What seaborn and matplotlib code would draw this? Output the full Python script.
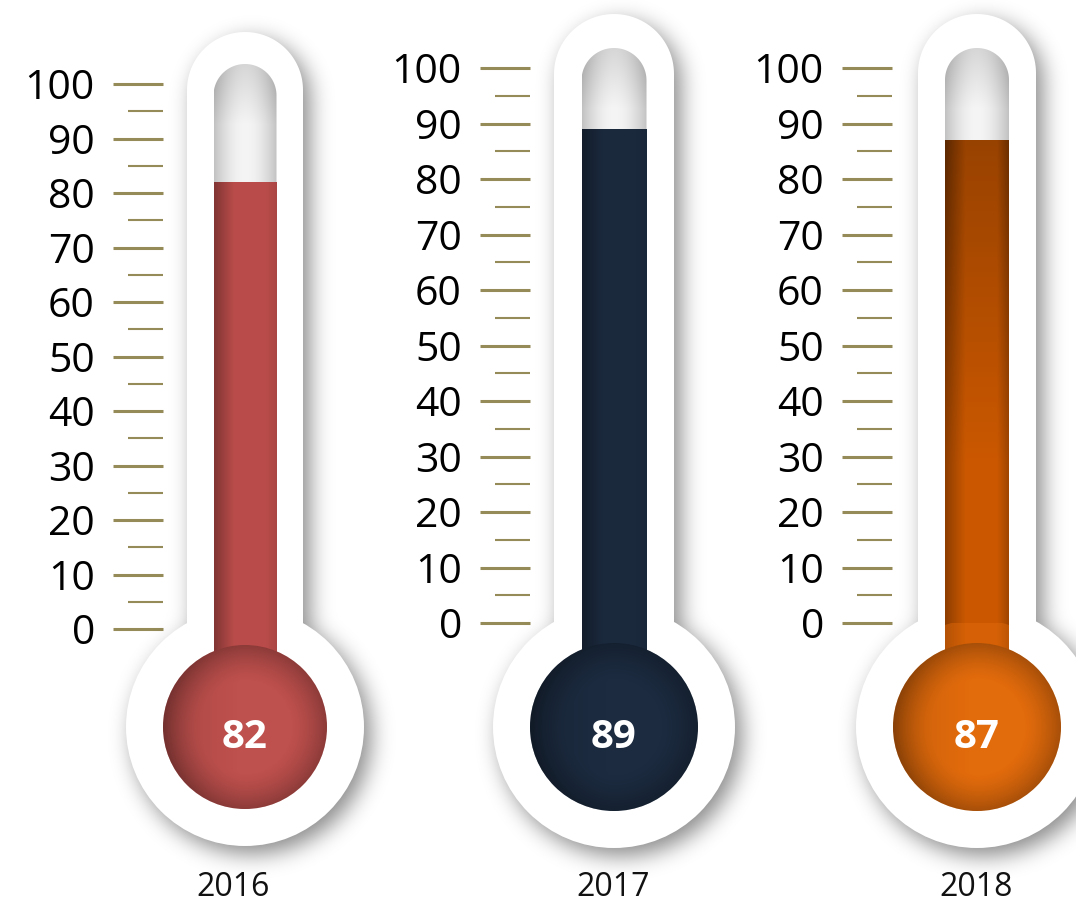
import numpy as np
import pandas as pd
import matplotlib
matplotlib.use("Agg")
import matplotlib.pyplot as plt
import seaborn as sns
from matplotlib.patches import Circle, Polygon, Rectangle
from matplotlib.ticker import FixedLocator

# ---------------- data ----------------
years = ["2016", "2017", "2018"]
values = [82, 89, 87]
major_ticks = [0, 10, 20, 30, 40, 50, 60, 70, 80, 90, 100]
minor_ticks = [5, 15, 25, 35, 45, 55, 65, 75, 85, 95]
tick_labels = ["0", "10", "20", "30", "40", "50", "60", "70", "80", "90", "100"]

# ---------------- styles ----------------
fill_colors = ["#b94c4a", "#1b293d", "#cb5800"]
bulb_colors = ["#be504d", "#1c2b40", "#e26b0c"]
top_shade = [0.0, 0.0, 0.25]
right_shade = [0.08, 0.05, 0.22]
bulb_glow = [0.0, 0.0, 0.45]
tick_color = "#958b58"

# ---------------- geometry (pixels) ----------------
W, H = 1076, 905
geoms = [
    dict(cx=245, zero=629, s=5.45, ax_left=163, oh=58, otop=32, ih=31.5, itop=64,
         by=727, orad=119, irad=82, glow_r=105, label_x=233),
    dict(cx=614, zero=623, s=5.55, ax_left=530, oh=60, otop=14, ih=32.5, itop=48,
         by=727, orad=121, irad=84, glow_r=107, label_x=613),
    dict(cx=977, zero=623, s=5.55, ax_left=892, oh=59, otop=14, ih=32, itop=48,
         by=727, orad=121, irad=84, glow_r=107, label_x=976),
]


def gauss_blur(a, sig):
    r = int(3 * sig)
    k = np.exp(-0.5 * (np.arange(-r, r + 1) / sig) ** 2)
    k /= k.sum()
    a = np.apply_along_axis(lambda v: np.convolve(v, k, mode="same"), 0, a)
    a = np.apply_along_axis(lambda v: np.convolve(v, k, mode="same"), 1, a)
    return a


def tube_px(half, top, bottom, n=80):
    cy = top + half
    ang = np.linspace(np.pi, 0, n)
    xs = np.concatenate([[-half, -half], half * np.cos(ang), [half, half]])
    ys = np.concatenate([[bottom, cy], cy - half * np.sin(ang), [cy, bottom]])
    return xs, ys


sns.set_theme(style="white")
plt.rcParams["font.family"] = ["Open Sans", "DejaVu Sans"]

fig = plt.figure(figsize=(W / 100, H / 100), dpi=100)
fig.patch.set_facecolor("white")

for i, g in enumerate(geoms):
    s = g["s"]
    cx = g["cx"]
    left = g["ax_left"]
    ax = fig.add_axes([left / W, 0, (W - left) / W, 1])
    ax.patch.set_visible(False)

    X = lambda px: (px - cx) / s
    Y = lambda py: (g["zero"] - py) / s

    # ---- shadow (blurred mask, pixel grid) ----
    px0, px1 = int(cx - g["orad"] - 60), int(cx + g["orad"] + 70)
    xx, yy = np.meshgrid(np.arange(px0, px1) + 0.5, np.arange(0, H) + 0.5)
    offx, offy = 7, 8
    dx = xx - cx - offx
    dyy = yy - offy
    tc = g["otop"] + g["oh"]
    m = (((np.abs(dx) <= g["oh"]) & (dyy >= tc) & (dyy <= g["by"]))
         | (dx ** 2 + (dyy - tc) ** 2 <= g["oh"] ** 2)
         | (dx ** 2 + (dyy - g["by"]) ** 2 <= g["orad"] ** 2)).astype(float)
    mb = gauss_blur(m, 11)
    sh = np.zeros(m.shape + (4,))
    sh[..., 3] = 0.46 * mb
    im = ax.imshow(sh, extent=(X(px0), X(px1), Y(H), Y(0)), origin="upper",
                   aspect="auto", zorder=1, interpolation="bilinear")
    im.set_clip_on(False)

    # ---- white outer body ----
    txs, tys = tube_px(g["oh"], g["otop"], g["by"])
    ax.add_patch(Polygon(np.column_stack([txs / s, Y(tys)]), closed=True,
                         facecolor="white", edgecolor="none", zorder=2, clip_on=False))
    ax.add_patch(Circle((0, Y(g["by"])), g["orad"] / s, facecolor="white",
                        edgecolor="none", zorder=2, clip_on=False))

    # ---- inner glass tube (gray gradient) ----
    ixs, iys = tube_px(g["ih"], g["itop"], g["by"])
    inner = Polygon(np.column_stack([ixs / s, Y(iys)]), closed=True,
                    facecolor="none", edgecolor="none", zorder=3, clip_on=False)
    ax.add_patch(inner)
    ncol = int(2 * g["ih"])
    nrow = int(g["by"] - g["itop"])
    t = (np.arange(ncol) + 0.5) / ncol
    hprof = 0.755 + 0.205 * np.sin(np.pi * t) ** 0.9
    vpos = np.arange(nrow)
    vdark = 0.12 * np.clip(1 - vpos / 60.0, 0, 1)
    gray = np.clip(hprof[None, :] - vdark[:, None], 0, 1)
    gimg = np.dstack([gray, gray, gray])
    gim = ax.imshow(gimg, extent=(-g["ih"] / s, g["ih"] / s, Y(g["by"]), Y(g["itop"])),
                    origin="upper", aspect="auto", zorder=3, interpolation="bilinear")
    gim.set_clip_path(inner)

    # ---- the mercury column (seaborn bar) ----
    df = pd.DataFrame({"year": [years[i]], "value": [values[i]]})
    sns.barplot(data=df, x="year", y="value", ax=ax, color=fill_colors[i],
                width=2 * g["ih"] / s, errorbar=None, saturation=1,
                edgecolor="none", linewidth=0, zorder=4)
    conn = Rectangle((-g["ih"] / s, Y(g["by"])), 2 * g["ih"] / s, -Y(g["by"]),
                     facecolor=fill_colors[i], edgecolor="none", zorder=4)
    ax.add_patch(conn)
    # shading of the column
    tt = np.linspace(0, 1, 80)
    alpha_h = (0.30 * np.clip(1 - tt / 0.32, 0, 1)
               + right_shade[i] * np.clip((tt - 0.82) / 0.18, 0, 1))
    vv = np.linspace(0, 1, 120)  # 0 at top
    alpha_v = top_shade[i] * np.clip(1 - vv / 0.55, 0, 1)
    a = np.clip(alpha_h[None, :] + alpha_v[:, None], 0, 1)
    ov = np.zeros(a.shape + (4,))
    ov[..., 3] = a
    ax.imshow(ov, extent=(-g["ih"] / s, g["ih"] / s, Y(g["by"]), values[i]),
              origin="upper", aspect="auto", zorder=4.5, interpolation="bilinear")

    # glossy glow of the bulb reaching into the column
    if bulb_glow[i] > 0:
        glow = Circle((0, Y(g["by"])), g["glow_r"] / s, facecolor=bulb_colors[i],
                      edgecolor="none", alpha=bulb_glow[i], zorder=4.7)
        ax.add_patch(glow)
        glow.set_clip_path(conn)

    # ---- bulb ----
    R = g["irad"] / s
    bulb = Circle((0, Y(g["by"])), R, facecolor=bulb_colors[i], edgecolor="none",
                  zorder=5, clip_on=False)
    ax.add_patch(bulb)
    n = 200
    gx, gy = np.meshgrid(np.linspace(-1, 1, n), np.linspace(1, -1, n))
    d = np.sqrt(gx ** 2 + gy ** 2)
    ba = 0.26 * np.clip((d - 0.55) / 0.45, 0, 1) ** 1.5 + 0.14 * np.clip(-gx, 0, 1) ** 1.5
    bov = np.zeros((n, n, 4))
    bov[..., 3] = np.clip(ba, 0, 1)
    bim = ax.imshow(bov, extent=(-R, R, Y(g["by"]) - R, Y(g["by"]) + R), origin="upper",
                    aspect="auto", zorder=5.5, interpolation="bilinear")
    bim.set_clip_path(bulb)

    # ---- texts ----
    ax.text(0, Y(748), str(values[i]), ha="center", va="baseline", color="white",
            fontsize=29, fontweight="bold", zorder=7, clip_on=False)
    ax.text(X(g["label_x"]), Y(904), years[i], ha="center", va="bottom",
            color="#111111", fontsize=23, zorder=7, clip_on=False)

    # ---- axis: scale ticks ----
    ax.set_xlim(X(left), X(W))
    ax.set_ylim(Y(H), Y(0))
    ax.set_yticks(major_ticks, labels=tick_labels)
    ax.yaxis.set_minor_locator(FixedLocator(minor_ticks))
    ax.tick_params(axis="y", which="major", left=True, length=36, width=2.2,
                   color=tick_color, direction="out", pad=13, labelsize=29.5,
                   labelcolor="black")
    ax.tick_params(axis="y", which="minor", left=True, length=25, width=1.5,
                   color=tick_color, direction="out")
    ax.set_xticks([])
    ax.set_xlabel("")
    ax.set_ylabel("")
    ax.grid(False)
    for sp in ax.spines.values():
        sp.set_visible(False)

fig.savefig("out.png", dpi=100, facecolor="white")
